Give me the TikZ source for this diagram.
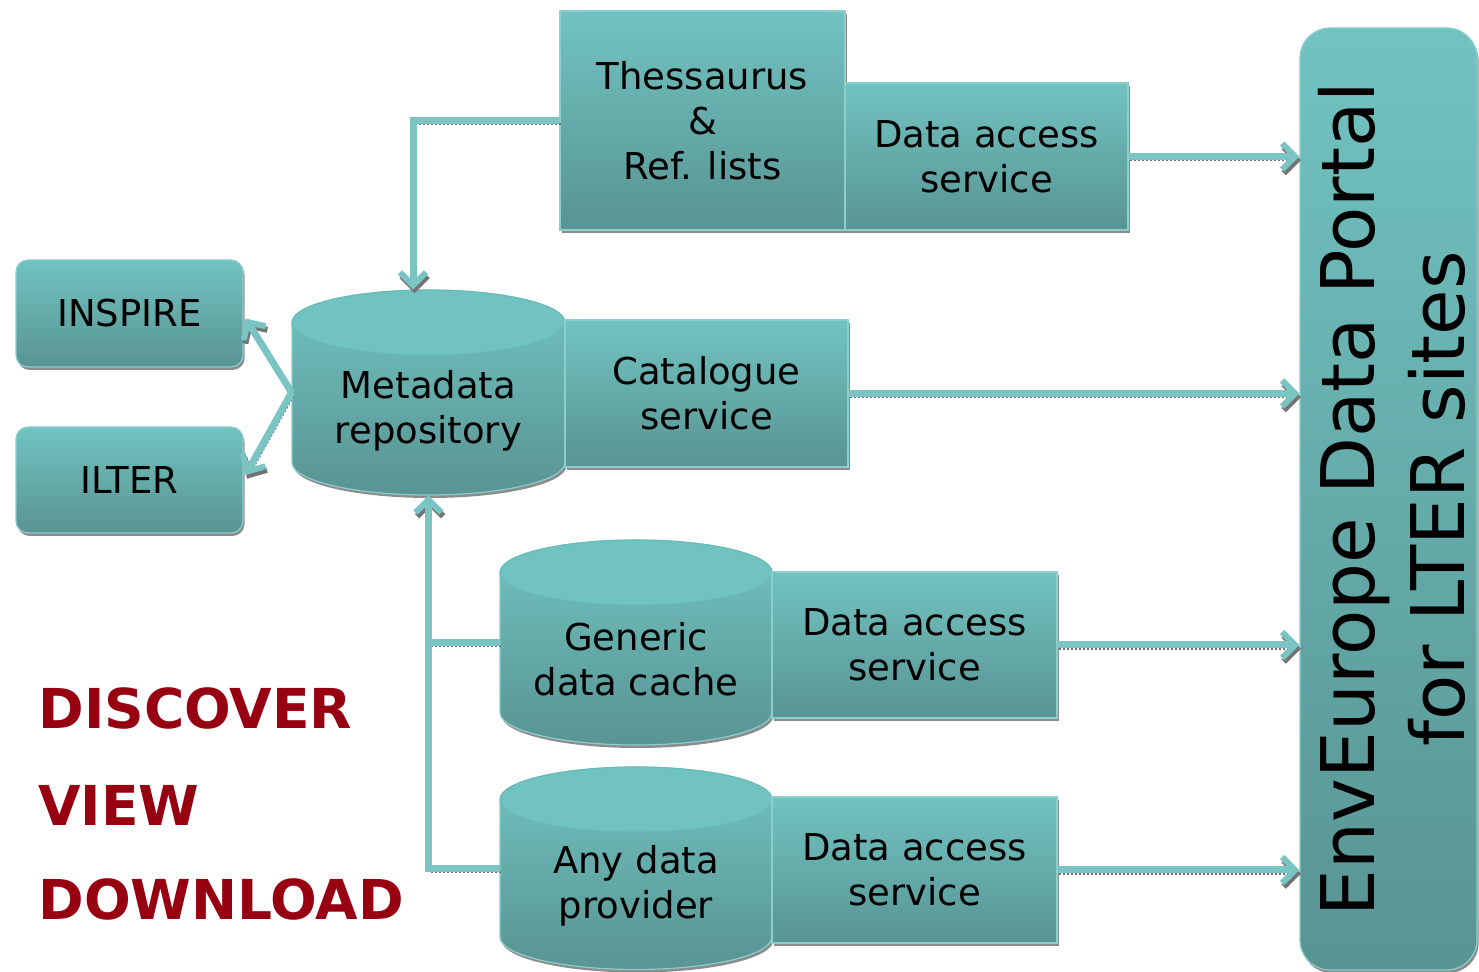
\documentclass[tikz,border=0pt]{standalone}
\usepackage{fontspec}
\setmainfont{DejaVu Sans}
\usetikzlibrary{arrows.meta,calc}
\definecolor{tealtop}{RGB}{113,195,193}
\definecolor{tealbot}{RGB}{88,148,147}
\definecolor{tealedge}{RGB}{140,206,204}
\definecolor{tealline}{RGB}{122,196,196}
\definecolor{darkred}{RGB}{150,0,16}
\tikzset{
  box/.style={rectangle, top color=tealtop, bottom color=tealbot, draw=tealedge, line width=0.6pt,
    align=center, font=\fontsize{18.5}{22.5}\selectfont, inner sep=0pt,
    preaction={fill=black!45, transform canvas={shift={(0.8pt,-1.5pt)}}}},
  rbox/.style={box, rounded corners=6pt},
  cylshape/.style={top color=tealtop, bottom color=tealbot, draw=tealedge, line width=0.6pt,
    preaction={fill=black!45, transform canvas={shift={(0.8pt,-1.5pt)}}}},
  cyltop/.style={fill=tealtop, draw={rgb,255:red,104;green,186;blue,184}, line width=0.5pt},
  cylnode/.style={rectangle, draw=none, inner sep=0pt},
  cyltext/.style={align=center, font=\fontsize{18.5}{22.5}\selectfont, inner sep=0pt},
  conn/.style={draw=tealline, line width=3.5pt, -{Straight Barb[length=6.5pt,width=13pt,line width=3pt]},
    preaction={draw=black!55, densely dotted, line width=1pt, transform canvas={shift={(0.8pt,-1.8pt)}}}},
  plain/.style={draw=tealline, line width=3.5pt,
    preaction={draw=black!55, densely dotted, line width=1pt, transform canvas={shift={(0.8pt,-1.8pt)}}}},
  bigred/.style={anchor=base west, inner sep=0pt, text=darkred, font=\fontsize{27.5}{30}\selectfont\bfseries}
}
\begin{document}
\begin{tikzpicture}[x=0.5pt,y=-0.5pt]
\useasboundingbox (0,0) rectangle (1479,972);

% portal
\node[box, rounded corners=15pt, minimum width=88.5pt, minimum height=471pt] (portal) at (1388.5,499) {};
\node[rotate=90, align=center, inner sep=0pt, font=\fontsize{37}{45}\selectfont] (portaltext) at (1392,499) {EnvEurope Data Portal\\for LTER sites};

% left boxes
\node[rbox, minimum width=113.5pt, minimum height=53.5pt] (inspire) at (129.5,313.5) {INSPIRE};
\node[rbox, minimum width=113.5pt, minimum height=53pt] (ilter) at (129.5,480) {ILTER};

% top boxes
\node[box, minimum width=142.5pt, minimum height=109.5pt] (thes) at (702.5,120.5) {Thessaurus\\\&\\Ref. lists};
\node[box, minimum width=141.5pt, minimum height=73.5pt] (da1) at (986.5,156.5) {Data access\\service};

% metadata cylinder
\path[cylshape] (292,322.5) -- (292,462.5) arc[start angle=180,end angle=360,x radius=68.25pt,y radius=16.25pt]
  -- (565,322.5) arc[start angle=0,end angle=180,x radius=68.25pt,y radius=16.25pt] -- cycle;
\path[cyltop] (428.5,322.5) ellipse[x radius=68.25pt,y radius=16.25pt];
\node[cylnode, minimum width=136.5pt, minimum height=102.5pt] (meta) at (428.5,392.5) {};
\node[cyltext] (metatext) at (428.5,411) {Metadata\\repository};
\node[box, minimum width=141.5pt, minimum height=73.5pt] (cat) at (706.5,393.5) {Catalogue\\service};

% generic data cache
\path[cylshape] (500,572.5) -- (500,712.5) arc[start angle=180,end angle=360,x radius=68pt,y radius=16.25pt]
  -- (772,572.5) arc[start angle=0,end angle=180,x radius=68pt,y radius=16.25pt] -- cycle;
\path[cyltop] (636,572.5) ellipse[x radius=68pt,y radius=16.25pt];
\node[cylnode, minimum width=136pt, minimum height=102.5pt] (gen) at (636,642.5) {};
\node[cyltext] (gentext) at (636,659) {Generic\\data cache};
\node[box, minimum width=142.5pt, minimum height=73pt] (da3) at (914.5,645) {Data access\\service};

% any data provider
\path[cylshape] (500,799.5) -- (500,937) arc[start angle=180,end angle=360,x radius=68pt,y radius=16.25pt]
  -- (772,799.5) arc[start angle=0,end angle=180,x radius=68pt,y radius=16.25pt] -- cycle;
\path[cyltop] (636,799.5) ellipse[x radius=68pt,y radius=16.25pt];
\node[cylnode, minimum width=136pt, minimum height=101.5pt] (any) at (636,868.5) {};
\node[cyltext] (anytext) at (636,886) {Any data\\provider};
\node[box, minimum width=142.5pt, minimum height=73pt] (da4) at (914.5,870) {Data access\\service};

% connectors
\draw[conn] (thes.west) -| ($(meta.north)+(-15.5,0)$);
\draw[conn] (da1.east) -- (da1.east -| portal.west);
\draw[conn] (cat.east) -- (cat.east -| portal.west);
\draw[conn] (da3.east) -- (da3.east -| portal.west);
\draw[conn] (da4.east) -- (da4.east -| portal.west);
\draw[conn] (meta.west) -- ($(inspire.east)+(2,5)$);
\draw[conn] (meta.west) -- ($(ilter.east)+(2,-5)$);
\draw[plain] (gen.west) -- (gen.west -| meta.south);
\draw[conn] (any.west) -| (meta.south);

% labels
\node[bigred] (discover) at (38,729) {DISCOVER};
\node[bigred] (view) at (38,826) {VIEW};
\node[bigred] (download) at (38,920) {DOWNLOAD};
\end{tikzpicture}
\end{document}
